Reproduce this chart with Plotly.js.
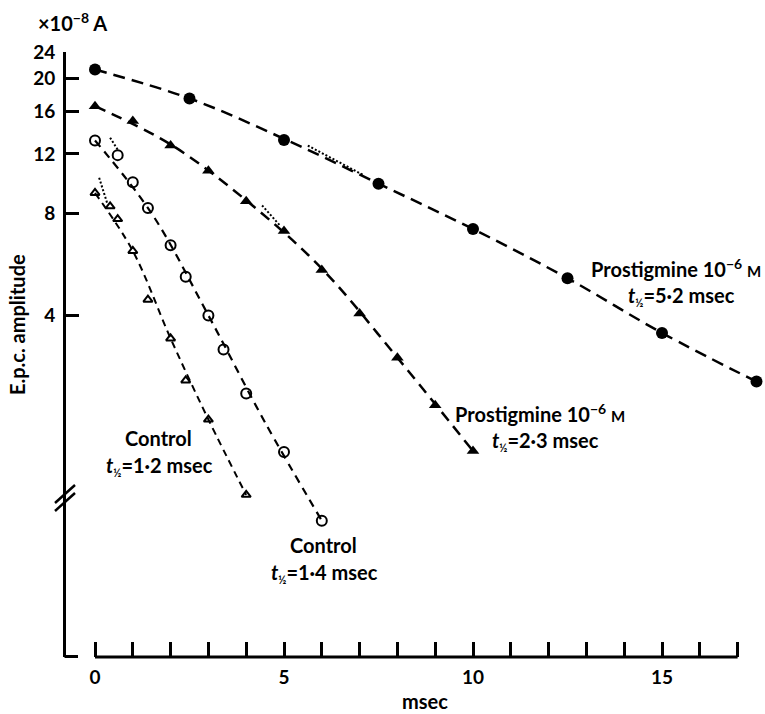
<!DOCTYPE html>
<html>
<head>
<meta charset="utf-8">
<script src="https://cdn.plot.ly/plotly-3.0.1.min.js"></script>
<style>html,body{margin:0;padding:0;background:#fff;}#chart{width:765px;height:714px;}</style>
</head>
<body>
<div id="chart"></div>
<script>
// ---- data (time in msec, amplitude in 1e-8 A) ----
const tProst52 = [0, 2.5, 5, 7.5, 10, 12.5, 15, 17.5];
const ampProst52 = [21.3, 17.5, 13.2, 9.8, 7.2, 5.15, 3.55, 2.55];
const tProst23 = [0, 1, 2, 3, 4, 5, 6, 7, 8, 9, 10];
const ampProst23 = [16.6, 15.0, 12.7, 10.7, 8.7, 7.1, 5.45, 4.05, 3.0, 2.17, 1.59];
const tCtrl14 = [0, 0.6, 1, 1.4, 2, 2.4, 3, 3.4, 4, 5, 6];
const ampCtrl14 = [13.15, 11.9, 9.9, 8.3, 6.45, 5.2, 4.0, 3.17, 2.35, 1.58, 0.99];
const tCtrl12 = [0, 0.4, 0.6, 1, 1.4, 2, 2.4, 3, 4];
const ampCtrl12 = [9.2, 8.4, 7.7, 6.2, 4.45, 3.42, 2.57, 1.97, 1.18];
// fitted dashed curves
const tFit52 = [0, 2.5, 5, 7.5, 10, 12.5, 15, 17.5];
const ampFit52 = [21.3, 17.5, 13.3, 9.8, 7.2, 5.15, 3.55, 2.55];
const tFit23 = [0, 2, 4, 6, 8, 10];
const ampFit23 = [16.6, 12.8, 8.75, 5.5, 3.0, 1.59];
const tFit14 = [0, 1.5, 3, 4.5, 6];
const ampFit14 = [13.15, 8.0, 4.0, 1.93, 0.99];
const tFit12 = [0, 1, 2, 3, 4];
const ampFit12 = [9.2, 6.2, 3.42, 1.97, 1.18];
// dotted extrapolation segments
const tDot52 = [5.63, 7.09], ampDot52 = [12.7, 10.4];
const tDot23 = [4.42, 4.89], ampDot23 = [8.45, 7.38];
const tDot14 = [0.40, 0.61], ampDot14 = [13.4, 12.3];
const tDot12 = [0.11, 0.32], ampDot12 = [10.2, 8.6];
// axis ticks
const xTickVals = [0,1,2,3,4,5,6,7,8,9,10,11,12,13,14,15,16,17];
const xTickText = ['0','','','','','5','','','','','10','','','','','15','',''];
const yTickVals = [4, 8, 12, 16, 20, 24];
const yTickText = ['4', '8', '12', '16', '20', '24'];

// ---- geometry ----
const W = 765, H = 714;
const ML = 66, MR = 1, MT = 52, MB = 57;
const PW = W - ML - MR, PH = H - MT - MB;
const px = x => (x - ML) / PW;
const py = y => (H - MB - y) / PH;
const FONT = 'Lato, "Open Sans", sans-serif';
const FS = 20;

const dashLine = (t, a, dash, w, shape) => ({x: t, y: a, mode: 'lines', type: 'scatter', hoverinfo: 'skip',
  line: {color: 'black', width: w, dash: dash, shape: shape, smoothing: 1}, cliponaxis: false});
const markers = (t, a, sym, size, lw) => ({x: t, y: a, mode: 'markers', type: 'scatter',
  marker: {symbol: sym, size: size, color: 'black', line: {color: 'black', width: lw}}, cliponaxis: false});
const dotLine = (t, a) => ({x: t, y: a, mode: 'lines', type: 'scatter', hoverinfo: 'skip',
  line: {color: 'black', width: 2, dash: '2px,2px'}});

const traces = [
  dashLine(tFit52, ampFit52, '12px,7px', 2.5, 'spline'),
  dashLine(tFit23, ampFit23, '11px,7px', 2.5, 'spline'),
  dashLine(tFit14, ampFit14, '8px,6px', 2.2, 'spline'),
  dashLine(tFit12, ampFit12, '7px,5px', 2, 'spline'),
  dotLine(tDot52, ampDot52), dotLine(tDot23, ampDot23),
  dotLine(tDot14, ampDot14), dotLine(tDot12, ampDot12),
  markers(tProst52, ampProst52, 'circle', 12, 0),
  markers(tProst23, ampProst23, 'triangle-up', 11, 0),
  markers(tCtrl14, ampCtrl14, 'circle-open', 10, 2),
  markers(tCtrl12, ampCtrl12, 'triangle-up-open', 8, 2)
];

const x0 = -(95 - ML) / 37.8;
const x1 = x0 + PW / 37.8;
const yTop = Math.log10(24);
const yBot = yTop - PH / 338.5;

const txt = (x, y, text, opts) => Object.assign({xref: 'paper', yref: 'paper', x: px(x), y: py(y),
  text: text, showarrow: false, font: {family: FONT, size: FS, color: 'black', weight: 700},
  xanchor: 'center', yanchor: 'middle'}, opts || {});

const half = '<i>t</i><sub><span style="font-size:11px">½</span></sub>';
const mSmall = '<span style="font-size:15px">M</span>';
const annotations = [
  txt(72, 22, '×10<sup>−8</sup> A', {}),
  txt(17, 325, 'E.p.c. amplitude', {textangle: -90}),
  txt(425, 701, 'msec', {}),
  txt(676, 268, 'Prostigmine 10<sup>−6</sup> ' + mSmall, {}),
  txt(681, 296, half + '=5·2 msec', {}),
  txt(540, 413, 'Prostigmine 10<sup>−6</sup> ' + mSmall, {}),
  txt(545, 441, half + '=2·3 msec', {}),
  txt(158, 438, 'Control', {}),
  txt(159, 466, half + '=1·2 msec', {}),
  txt(323, 545, 'Control', {}),
  txt(324, 573, half + '=1·4 msec', {})
];

const shapes = [
  {type: 'line', xref: 'x', yref: 'paper', x0: 0, x1: 17, y0: 0, y1: 0, line: {color: 'black', width: 3}},
  {type: 'line', xref: 'paper', yref: 'paper', x0: px(64.5), x1: px(78), y0: py(656.5), y1: py(656.5), line: {color: 'black', width: 3}},
  {type: 'line', xref: 'paper', yref: 'paper', x0: px(55), x1: px(75), y0: py(503), y1: py(485), line: {color: 'black', width: 2.5}},
  {type: 'line', xref: 'paper', yref: 'paper', x0: px(55), x1: px(75), y0: py(511), y1: py(493), line: {color: 'black', width: 2.5}}
];

const tickFont = {family: FONT, size: 19, color: 'black', weight: 700};
const layout = {
  width: W, height: H,
  margin: {l: ML, r: MR, t: MT, b: MB, pad: 0},
  paper_bgcolor: 'white', plot_bgcolor: 'white',
  showlegend: false,
  font: {family: FONT, size: FS, color: 'black'},
  xaxis: {range: [x0, x1], showline: false, showgrid: false, zeroline: false,
    tickmode: 'array', tickvals: xTickVals, ticktext: xTickText,
    ticks: 'inside', ticklen: 15, tickwidth: 3, tickcolor: 'black',
    tickfont: tickFont, ticklabelstandoff: 7, fixedrange: true},
  yaxis: {type: 'log', range: [yBot, yTop], showline: true, linewidth: 3, linecolor: 'black',
    showgrid: false, zeroline: false, tickmode: 'array', tickvals: yTickVals, ticktext: yTickText,
    ticks: 'inside', ticklen: 13, tickwidth: 3, tickcolor: 'black',
    tickfont: tickFont, ticklabelstandoff: 4, fixedrange: true},
  annotations: annotations,
  shapes: shapes
};

Plotly.newPlot('chart', traces, layout, {staticPlot: true, displayModeBar: false});
</script>
</body>
</html>
